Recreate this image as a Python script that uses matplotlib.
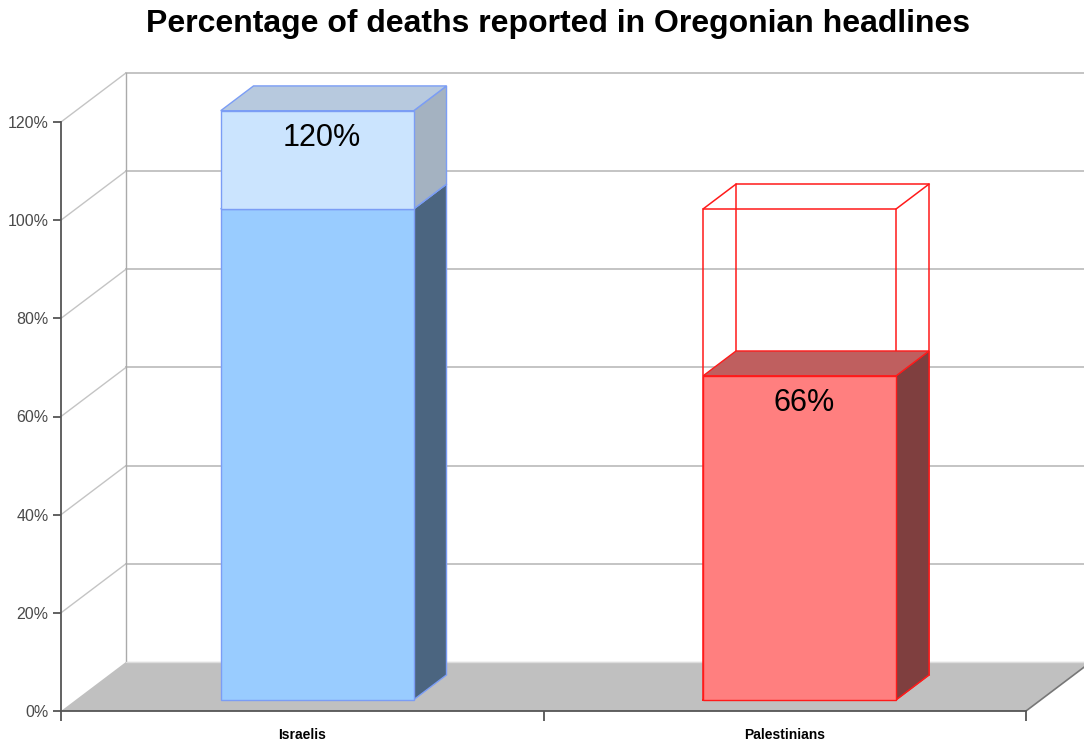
import matplotlib
matplotlib.use("Agg")
import matplotlib.pyplot as plt
from matplotlib.patches import Polygon

plt.rcParams['font.family'] = ['Liberation Sans', 'DejaVu Sans']

# ---- data ----
categories = ['Israelis', 'Palestinians']
reported = [120, 66]        # % of deaths reported in headlines
actual = [100, 100]         # reference level (100 %)
yticks = [0, 20, 40, 60, 80, 100, 120]
ytick_labels = [f"{v}%" for v in yticks]
title = "Percentage of deaths reported in Oregonian headlines"

# ---- styles ----
styles = {
    'Israelis': dict(front='#99ccff', side='#4b6580', top='#b7c9de',
                     front_hi='#cbe4fe', side_hi='#a4b2c1', top_hi='#b7c9de',
                     edge='#7b9df5'),
    'Palestinians': dict(front='#ff7f7f', side='#7f3f3f', top='#bf5f5f',
                         front_hi='#ff7f7f', side_hi='#7f3f3f', top_hi='#bf5f5f',
                         edge='#ff1a1a'),
}

fig = plt.figure(figsize=(10.84, 7.45), dpi=100)
ax = fig.add_axes([61 / 1084, 34 / 745, 965 / 1084, 589 / 745])
ax.set_xlim(0, len(categories))
ax.set_ylim(0, 120)

DX = 0.1347   # depth offset in x data units
DY = 10.0     # depth offset in y data units
F0, F1 = 0.23, 0.735   # bar depth fraction (front, back)
W = 0.4

grid_c = '#c4c4c4'
axis_c = '#555555'
nx = len(categories)

# floor
ax.add_patch(Polygon([(0, 0), (nx, 0), (nx + DX, DY), (DX, DY)], closed=True,
                     facecolor='#c0c0c0', edgecolor='none', zorder=1, clip_on=False))
ax.plot([nx, nx + DX], [0, DY], color='#777777', lw=1.2, zorder=2, clip_on=False)
ax.plot([DX, nx + DX], [DY, DY], color='#dddddd', lw=1.0, zorder=2, clip_on=False)

# back wall and left wall
for v in yticks:
    if v > 0:
        ax.plot([DX, nx + DX], [v + DY, v + DY], color=grid_c, lw=1.4, zorder=1, clip_on=False)
        ax.plot([0, DX], [v, v + DY], color=grid_c, lw=1.0, zorder=1, clip_on=False)
ax.plot([DX, DX], [DY, yticks[-1] + DY], color='#aaaaaa', lw=1.0, zorder=1, clip_on=False)


def pt(x, y, f):
    return (x + f * DX, y + f * DY)


def box(x0, x1, y0, y1, front, side, top, edge, z):
    faces = [
        ([pt(x1, y0, F0), pt(x1, y0, F1), pt(x1, y1, F1), pt(x1, y1, F0)], side),
        ([pt(x0, y1, F0), pt(x1, y1, F0), pt(x1, y1, F1), pt(x0, y1, F1)], top),
        ([pt(x0, y0, F0), pt(x1, y0, F0), pt(x1, y1, F0), pt(x0, y1, F0)], front),
    ]
    for pts, c in faces:
        ax.add_patch(Polygon(pts, closed=True, facecolor=c, edgecolor=edge,
                             lw=1.0, zorder=z, clip_on=False, joinstyle='miter'))


def wire(x0, x1, y0, y1, edge, z):
    corners_f = [pt(x0, y0, F0), pt(x1, y0, F0), pt(x1, y1, F0), pt(x0, y1, F0)]
    corners_b = [pt(x0, y0, F1), pt(x1, y0, F1), pt(x1, y1, F1), pt(x0, y1, F1)]
    for cs in (corners_f, corners_b):
        xs = [c[0] for c in cs] + [cs[0][0]]
        ys = [c[1] for c in cs] + [cs[0][1]]
        ax.plot(xs, ys, color=edge, lw=1.1, zorder=z, clip_on=False)
    for a, b in zip(corners_f, corners_b):
        ax.plot([a[0], b[0]], [a[1], b[1]], color=edge, lw=1.1, zorder=z, clip_on=False)


for i, (cat, val, ref) in enumerate(zip(categories, reported, actual)):
    s = styles[cat]
    c = i + 0.5
    x0, x1 = c - W / 2, c + W / 2
    if val >= ref:
        box(x0, x1, 0, ref, s['front'], s['side'], s['top'], s['edge'], 3)
        box(x0, x1, ref, val, s['front_hi'], s['side_hi'], s['top_hi'], s['edge'], 4)
    else:
        wire(x0, x1, 0, ref, s['edge'], 2.5)
        box(x0, x1, 0, val, s['front'], s['side'], s['top'], s['edge'], 3)
    fx, fy = pt(c, val, F0)
    ax.annotate(f"{val}%", xy=(fx, fy), xytext=(3, -8.5), textcoords='offset points',
                ha='center', va='top', fontsize=22, color='black', zorder=6,
                annotation_clip=False)

# axes styling
for sp in ('top', 'right'):
    ax.spines[sp].set_visible(False)
for sp in ('left', 'bottom'):
    ax.spines[sp].set_color(axis_c)
    ax.spines[sp].set_linewidth(1.3)
    ax.spines[sp].set_zorder(5)

ax.set_yticks(yticks, ytick_labels)
ax.tick_params(axis='y', length=6, width=1.3, color=axis_c, labelcolor='#4a4a4a',
               labelsize=11.5, pad=3)
ax.set_xticks(range(nx + 1), [''] * (nx + 1))
ax.tick_params(axis='x', which='major', length=7, width=1.3, color=axis_c)
ax.set_xticks([i + 0.5 for i in range(nx)], categories, minor=True)
ax.tick_params(axis='x', which='minor', length=0, pad=12, labelsize=10)
for lbl in ax.get_xticklabels(minor=True):
    lbl.set_fontweight('bold')
ax.patch.set_visible(False)

fig.text(558 / 1084, 1 - 24 / 745, title, ha='center', va='center',
         fontsize=23, fontweight='bold')

fig.savefig('out.png', dpi=100)
